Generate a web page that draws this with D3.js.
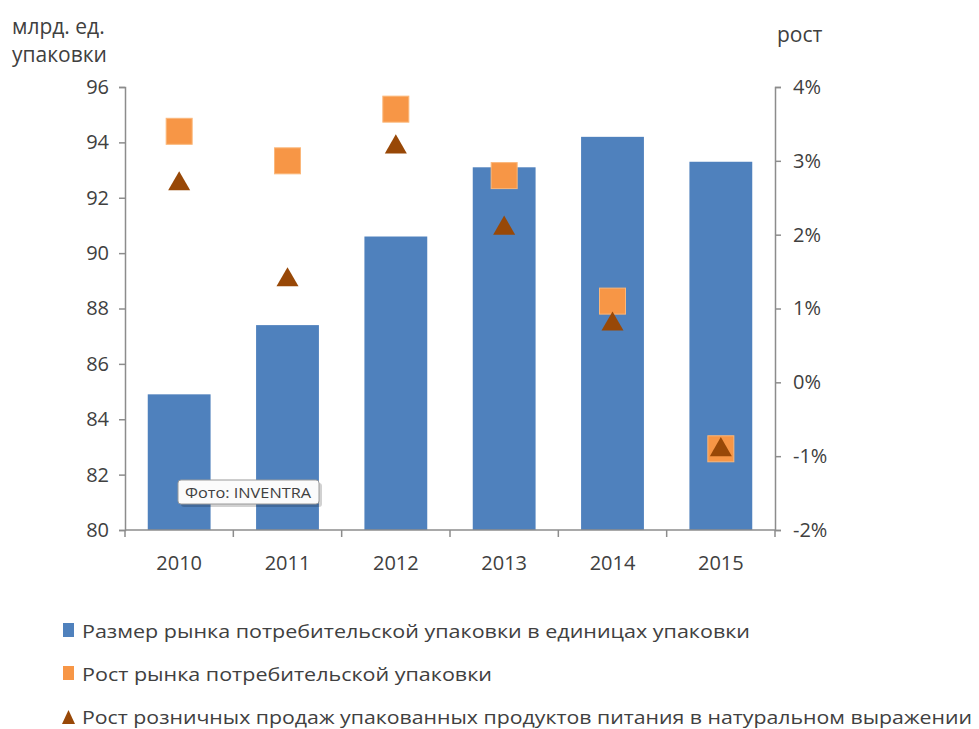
<!DOCTYPE html>
<html>
<head>
<meta charset="utf-8">
<script src="https://cdn.jsdelivr.net/npm/d3@7"></script>
<style>
  body { margin: 0; background: #fff; }
  svg text { font-family: "Open Sans", "Noto Sans", sans-serif; fill: #404040; }
</style>
</head>
<body>
<svg id="chart" width="979" height="729"></svg>
<script>
// data
var years = ["2010", "2011", "2012", "2013", "2014", "2015"];
var marketSize = [84.9, 87.4, 90.6, 93.1, 94.2, 93.3];      // млрд. ед. упаковки
var marketGrowth = [3.4, 3.0, 3.7, 2.8, 1.1, -0.9];         // %
var retailGrowth = [2.7, 1.4, 3.2, 2.1, 0.8, -0.9];         // %
var leftTicks = [80, 82, 84, 86, 88, 90, 92, 94, 96];
var rightTicks = [-2, -1, 0, 1, 2, 3, 4];
var legendLabels = [
  "Размер рынка потребительской упаковки в единицах упаковки",
  "Рост рынка потребительской упаковки",
  "Рост розничных продаж упакованных продуктов питания  в натуральном выражении"
];

(function () {
    var svg = d3.select("svg#chart");
    var left = 125, right = 775, top = 87, bottom = 530;
    var axisColor = "#8c8c8c";

    var x = d3.scaleBand().domain(years).range([left, right]).paddingInner(0.42).paddingOuter(0.21);
    var xb = d3.scaleBand().domain(years).range([left, right]);
    var yL = d3.scaleLinear().domain([80, 96]).range([bottom, top]);
    var yR = d3.scaleLinear().domain([-2, 4]).range([bottom, top]);

    // bars
    svg.append("g").selectAll("rect").data(years).join("rect")
        .attr("x", d => x(d))
        .attr("width", x.bandwidth())
        .attr("y", (d, i) => yL(marketSize[i]))
        .attr("height", (d, i) => bottom - yL(marketSize[i]))
        .attr("fill", "#4f81bd");

    // axes
    var gl = svg.append("g").attr("transform", "translate(" + left + ",0)")
        .call(d3.axisLeft(yL).tickValues(leftTicks).tickSize(6).tickPadding(10));
    var gr = svg.append("g").attr("transform", "translate(" + right + ",0)")
        .call(d3.axisRight(yR).tickValues(rightTicks).tickSize(6).tickPadding(12)
              .tickFormat(d => d + "%"));
    [gl, gr].forEach(function (g) {
        g.select(".domain").attr("stroke", axisColor).attr("stroke-width", 1.5);
        g.selectAll(".tick line").attr("stroke", axisColor).attr("stroke-width", 1.5);
        g.selectAll(".tick text").style("font-size", "20px").attr("fill", "#404040");
    });

    // bottom axis with ticks at band edges
    svg.append("line").attr("x1", left).attr("x2", right).attr("y1", bottom).attr("y2", bottom)
        .attr("stroke", axisColor).attr("stroke-width", 1.5);
    var edges = years.map(d => xb(d)).concat([right]);
    svg.append("g").selectAll("line").data(edges).join("line")
        .attr("x1", d => d).attr("x2", d => d).attr("y1", bottom).attr("y2", bottom + 7)
        .attr("stroke", axisColor).attr("stroke-width", 1.5);
    svg.append("g").selectAll("text").data(years).join("text")
        .attr("x", d => xb(d) + xb.bandwidth() / 2).attr("y", 570)
        .attr("text-anchor", "middle").style("font-size", "20px").text(d => d);

    // orange squares
    var sq = 26;
    svg.append("g").selectAll("rect").data(years).join("rect")
        .attr("x", d => xb(d) + xb.bandwidth() / 2 - sq / 2)
        .attr("y", (d, i) => yR(marketGrowth[i]) - sq / 2)
        .attr("width", sq).attr("height", sq)
        .attr("fill", "#f79646").attr("stroke", "#fbb77a").attr("stroke-width", 1);

    // brown triangles
    var tri = d3.symbol().type(d3.symbolTriangle).size(210);
    svg.append("g").selectAll("path").data(years).join("path")
        .attr("d", tri)
        .attr("transform", (d, i) => "translate(" + (xb(d) + xb.bandwidth() / 2) + "," + (yR(retailGrowth[i]) + 1) + ")")
        .attr("fill", "#984807");

    // axis titles
    svg.append("text").attr("x", 12).attr("y", 34).style("font-size", "21px").text("млрд. ед.");
    svg.append("text").attr("x", 12).attr("y", 62).style("font-size", "21px").text("упаковки");
    svg.append("text").attr("x", 777).attr("y", 42).style("font-size", "21px").text("рост");

    // photo caption box
    var cap = svg.append("g").attr("transform", "translate(178,480)");
    cap.append("rect").attr("x", 3).attr("y", 3).attr("width", 141).attr("height", 24)
        .attr("rx", 3).attr("fill", "#000").attr("opacity", 0.18);
    cap.append("rect").attr("width", 141).attr("height", 24).attr("rx", 3)
        .attr("fill", "#fbfbfb").attr("stroke", "#9a9a9a");
    cap.append("text").attr("x", 7).attr("y", 17.5).style("font-size", "14.5px")
        .attr("fill", "#555").attr("textLength", 126).attr("lengthAdjust", "spacingAndGlyphs")
        .text("Фото: INVENTRA");

    // legend
    var legY = [631, 674, 717];
    var legW = [668, 410, 890];
    var leg = svg.append("g");
    legendLabels.forEach(function (lab, i) {
        var g = leg.append("g").attr("transform", "translate(0," + legY[i] + ")");
        if (i === 0) g.append("rect").attr("x", 63).attr("y", -8).attr("width", 11).attr("height", 14).attr("fill", "#4f81bd");
        if (i === 1) g.append("rect").attr("x", 63).attr("y", -8).attr("width", 11).attr("height", 14).attr("fill", "#f79646");
        if (i === 2) g.append("path").attr("d", "M62,7L68.5,-7L75,7Z").attr("fill", "#984807");
        g.append("text").attr("x", 82).attr("y", 7).style("font-size", "19px")
            .attr("fill", "#262626")
            .attr("textLength", legW[i]).attr("lengthAdjust", "spacingAndGlyphs").text(lab);
    });
})();
</script>
</body>
</html>
